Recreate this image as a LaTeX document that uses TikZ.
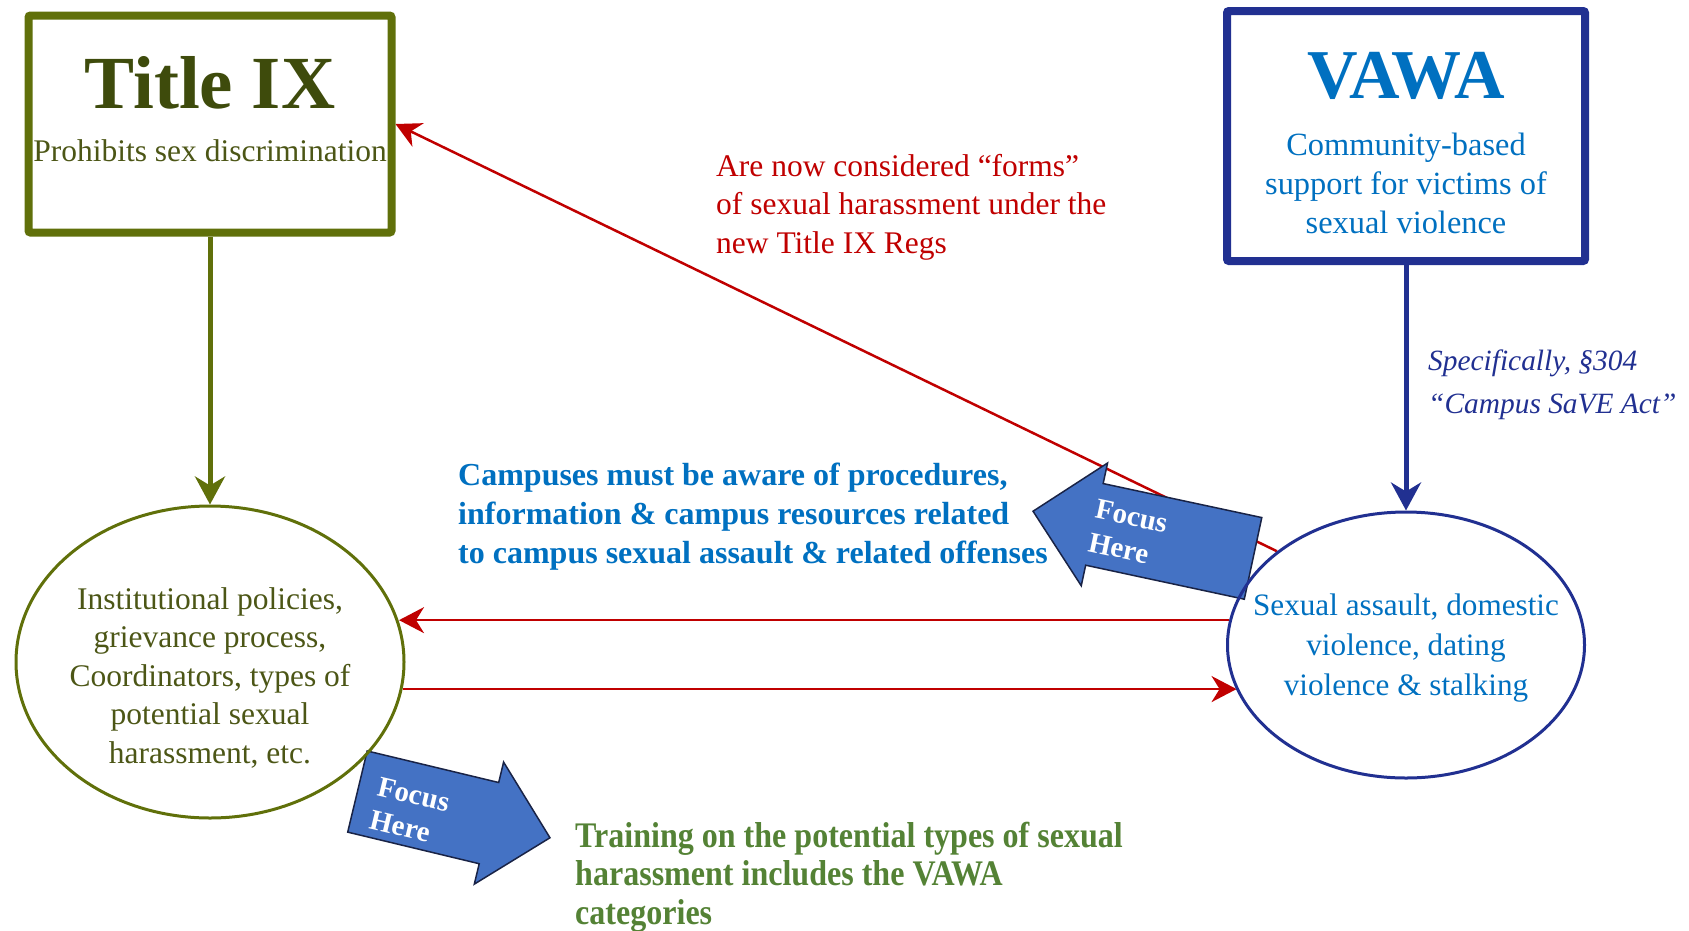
\documentclass[tikz,border=0pt]{standalone}
\usepackage{fontspec}
\setmainfont{Liberation Serif}
\newfontfamily\narrowserif[FakeStretch=0.89]{Liberation Serif}
\usepackage{tikz}
\usetikzlibrary{shapes.geometric, shapes.arrows, arrows.meta, positioning, calc, backgrounds}
\definecolor{tixolive}{RGB}{96, 112, 10}
\definecolor{tixdark}{RGB}{62, 75, 12}
\definecolor{tixtext}{RGB}{76, 86, 22}
\definecolor{vawanavy}{RGB}{33, 48, 145}
\definecolor{vawablue}{RGB}{0, 112, 192}
\definecolor{regred}{RGB}{192, 0, 0}
\definecolor{focusblue}{RGB}{68, 114, 196}
\definecolor{focusline}{RGB}{25, 35, 70}
\definecolor{traingreen}{RGB}{84, 130, 53}
\tikzset{
    lawbox/.style={draw, rectangle, rounded corners=2pt, line width=8pt},
    lawoval/.style={draw, ellipse, line width=3pt},
    bodytext/.style={font=\fontsize{31.5}{38.5}\selectfont, align=center, inner sep=0pt},
    linktext/.style={bodytext, align=left},
    boldtext/.style={linktext, font=\fontsize{32}{39}\selectfont\bfseries},
    feedarrow/.style={line width=5pt, -{Stealth[length=28pt, width=30pt, inset=9pt]}},
    regarrow/.style={line width=2.5pt, draw=regred, -{Stealth[length=25pt, width=26pt, inset=8pt]}},
    focusarrow/.style={draw=focusline, fill=focusblue, line width=1.5pt, single arrow, single arrow head extend=21pt, minimum width=124pt, inner xsep=0pt, inner ysep=41pt},
    focustext/.style={text=white, font=\fontsize{29}{34}\selectfont\bfseries, align=left, inner sep=0pt},
}

\begin{document}
\begin{tikzpicture}[x=1pt, y=-1pt]
    \useasboundingbox (0,0) rectangle (1689,930);

    % Title IX
    \node[lawbox, draw=tixolive, minimum width=363pt, minimum height=217pt] (tixbox) at (210,124) {};
    \node[font=\fontsize{75}{80}\selectfont\bfseries, text=tixdark, inner sep=0pt] (tixtitle) at (210,83) {Title IX};
    \node[bodytext, text=tixtext] (tixsub) at (210,151) {Prohibits sex discrimination};

    % VAWA
    \node[lawbox, draw=vawanavy, minimum width=358pt, minimum height=250pt] (vawabox) at (1406,136) {};
    \node[font=\fontsize{70}{75}\selectfont\bfseries, text=vawablue, inner sep=0pt] (vawatitle) at (1406,76) {VAWA};
    \node[bodytext, text=vawablue, font=\fontsize{32.4}{39}\selectfont] (vawasub) at (1406,183) {Community-based\\support for victims of\\sexual violence};

    % Ovals
    \node[lawoval, draw=tixolive, minimum width=388pt, minimum height=312pt] (tixoval) at (210,662) {};
    \node[bodytext, text=tixtext] (tixdesc) at (210,677.5) {Institutional policies,\\grievance process,\\Coordinators, types of\\potential sexual\\harassment, etc.};
    \node[lawoval, draw=vawanavy, minimum width=357pt, minimum height=266pt] (vawaoval) at (1406,645) {};
    \node[bodytext, text=vawablue, font=\fontsize{31.2}{40}\selectfont] (vawadesc) at (1406,648.5) {Sexual assault, domestic\\violence, dating\\violence \& stalking};

    % Downward links
    \draw[feedarrow, draw=tixolive] (tixbox) -- (tixoval);
    \draw[feedarrow, draw=vawanavy] (vawabox) -- (vawaoval);
    \node[linktext, text=vawanavy, font=\fontsize{29.4}{43}\selectfont\itshape, anchor=west] (savelbl) at (1428,385) {Specifically, §304\\“Campus SaVE Act”};

    % Red links and focus arrows
    \begin{scope}[on background layer]
        \draw[regarrow] (vawaoval.144) -- (tixbox.east);
        \draw[regarrow] (vawaoval.172) -- (tixoval.12 |- vawaoval.172);
        \draw[regarrow] (tixoval.352) -- (vawaoval.195 |- tixoval.352);
        \node[focusarrow, shape border rotate=180, rotate=-12.1, minimum height=225pt, anchor=tip] (focusup) at (1032,511) {};
        \node[focustext, rotate=-12.1] (focusuptext) at (1128,533) {Focus\\Here};
        \node[focusarrow, rotate=-13.5, minimum height=198pt, anchor=tip] (focusdown) at (551,838) {};
        \node[focustext, rotate=-13.5] (focusdowntext) at (410,811) {Focus\\Here};
    \end{scope}

    % Labels
    \node[linktext, text=regred, anchor=west] (formslbl) at (716,207) {Are now considered “forms”\\of sexual harassment under the\\new Title IX Regs};
    \node[boldtext, text=vawablue, anchor=west] (campuslbl) at (458,517) {Campuses must be aware of procedures,\\information \& campus resources related\\to campus sexual assault \& related offenses};
    \node[linktext, text=traingreen, font=\narrowserif\bfseries\fontsize{36}{38.5}\selectfont, anchor=west] (trainlbl) at (575,877) {Training on the potential types of sexual\\harassment includes the VAWA\\categories};
\end{tikzpicture}
\end{document}
